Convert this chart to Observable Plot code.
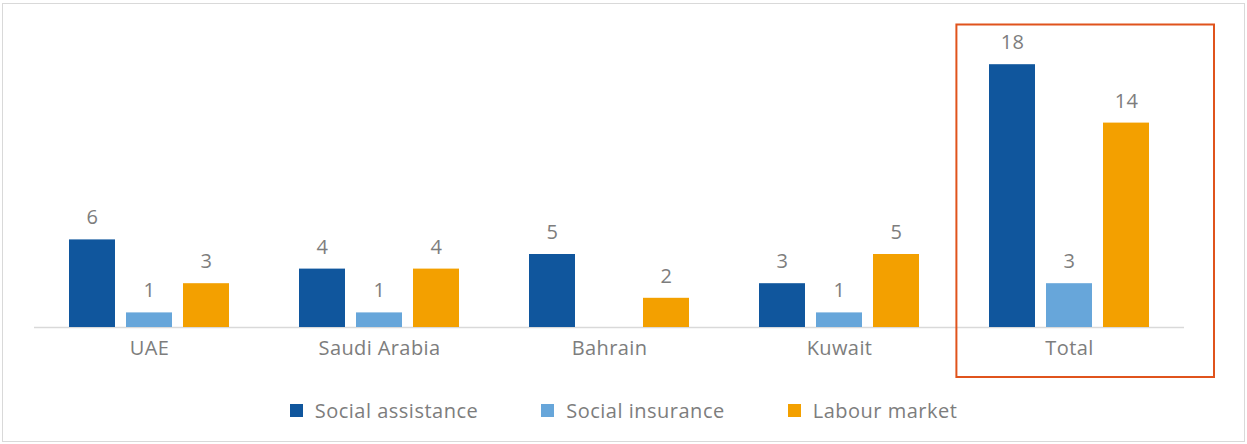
<!DOCTYPE html>
<html>
<head>
<meta charset="utf-8">
<script src="https://cdn.jsdelivr.net/npm/d3@7"></script>
<script src="https://cdn.jsdelivr.net/npm/@observablehq/plot@0.6"></script>
<style>
  html, body { margin: 0; padding: 0; background: #fff; }
  #wrap { position: relative; width: 1247px; height: 444px; font-family: "Open Sans", sans-serif; }
  #border { position: absolute; left: 2px; top: 3px; width: 1241px; height: 437px; border: 1px solid #d9d9d9; }
  #chart { position: absolute; left: 0; top: 0; }
  #legend { position: absolute; left: 0; top: 397px; width: 1247px; display: flex; justify-content: center; gap: 63px; font-size: 20px; letter-spacing: 0.5px; color: #7d7d7d; }
  .item { display: flex; align-items: center; gap: 12px; }
  .sw { width: 13px; height: 13px; display: inline-block; }
</style>
</head>
<body>
<div id="wrap">
  <div id="border"></div>
  <div id="chart"></div>
  <div id="legend"></div>
</div>
<script>
const categories = ["UAE", "Saudi Arabia", "Bahrain", "Kuwait", "Total"];
const series = ["Social assistance", "Social insurance", "Labour market"];
const socialAssistance = [6, 4, 5, 3, 18];
const socialInsurance = [1, 1, null, 1, 3];
const labourMarket = [3, 4, 2, 5, 14];
const colors = ["#10569d", "#67a6da", "#f3a000"];
const highlighted = ["Total"];

const values = [socialAssistance, socialInsurance, labourMarket];
const data = [];
categories.forEach((c, i) => {
  series.forEach((s, j) => {
    data.push({category: c, series: s, value: values[j][i]});
  });
});
const labelled = data.filter(d => d.value != null && d.value > 0);

const textColor = "#7d7d7d";

const plot = Plot.plot({
  width: 1247,
  height: 390,
  marginLeft: 33,
  marginRight: 62,
  marginTop: 35,
  marginBottom: 63,
  style: {fontFamily: "Open Sans, sans-serif", fontSize: "20px", letterSpacing: "0.4px", color: textColor, background: "transparent", overflow: "visible"},
  fx: {domain: categories, padding: 0, axis: "bottom", label: null, tickSize: 0, tickPadding: 13},
  x: {domain: series, axis: null, paddingInner: 0.19, paddingOuter: 0.6},
  y: {domain: [0, 20], axis: null},
  color: {domain: series, range: colors},
  marks: [
    Plot.ruleY([0], {stroke: "#d9d9d9", strokeWidth: 1.5}),
    Plot.barY(data.filter(d => d.value != null), {fx: "category", x: "series", y: "value", fill: "series"}),
    Plot.text(labelled, {fx: "category", x: "series", y: "value", text: d => String(d.value), dy: -22, fill: textColor, fontSize: 20}),
    Plot.rect(highlighted, {fx: d => d, stroke: "#e0531c", strokeWidth: 2, fill: "none",
      insetTop: -10.5, insetBottom: -50, insetLeft: 2.4, insetRight: -30})
  ]
});
document.getElementById("chart").appendChild(plot);

const legend = document.getElementById("legend");
series.forEach((s, j) => {
  const item = document.createElement("div");
  item.className = "item";
  const sw = document.createElement("span");
  sw.className = "sw";
  sw.style.background = colors[j];
  const t = document.createElement("span");
  t.textContent = s;
  item.appendChild(sw);
  item.appendChild(t);
  legend.appendChild(item);
});
</script>
</body>
</html>
